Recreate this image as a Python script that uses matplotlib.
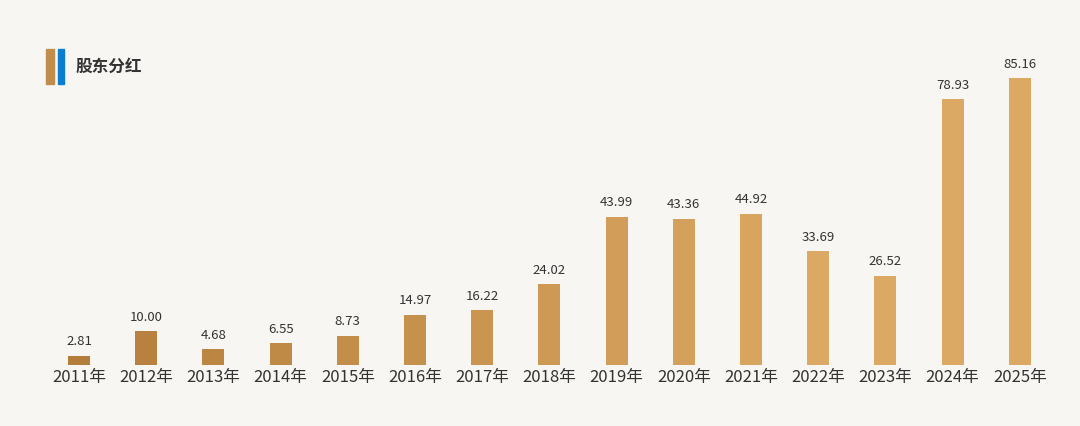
import numpy as np
import matplotlib.pyplot as plt
from matplotlib.colors import to_rgb
from matplotlib.patches import Rectangle

plt.rcParams['font.family'] = ['Noto Sans CJK SC', 'DejaVu Sans']

years = ['2011年', '2012年', '2013年', '2014年', '2015年', '2016年', '2017年', '2018年',
         '2019年', '2020年', '2021年', '2022年', '2023年', '2024年', '2025年']
values = [2.81, 10.00, 4.68, 6.55, 8.73, 14.97, 16.22, 24.02,
          43.99, 43.36, 44.92, 33.69, 26.52, 78.93, 85.16]
title = '股东分红'

fig = plt.figure(figsize=(10.8, 4.26), dpi=100)
fig.patch.set_facecolor('#f8f6f2')
ax = fig.add_axes([0, 61 / 426, 1, 365 / 426])
ax.set_facecolor('none')

# colour shifts from darker bronze to light gold across the years
c0 = np.array(to_rgb('#b57d3b'))
c1 = np.array(to_rgb('#dba963'))
x = np.arange(len(years))
colors = [tuple(c0 + (c1 - c0) * min(1, i / 11)) for i in x]
ax.bar(x, values, width=0.33, color=colors)
for xi, v in zip(x, values):
    ax.text(xi, v + 2.2, f'{v:.2f}', ha='center', va='bottom', fontsize=9.5, color='#333333')

ax.set_xlim(-79 / 67.2, (1080 - 79) / 67.2)
ax.set_ylim(0, 85.16 * 365 / 287)
ax.set_xticks(x)
ax.set_xticklabels(years, fontsize=12, color='#333333')
ax.tick_params(axis='x', length=0, pad=3)
ax.set_yticks([])
for s in ax.spines.values():
    s.set_visible(False)

# title marker
fig.patches.append(Rectangle((46 / 1080, 342 / 426), 8 / 1080, 35 / 426,
                             transform=fig.transFigure, color='#c08d4c'))
fig.patches.append(Rectangle((58 / 1080, 342 / 426), 6 / 1080, 35 / 426,
                             transform=fig.transFigure, color='#0a7fcf'))
fig.text(76 / 1080, 359 / 426, title, fontsize=12, fontweight='bold', color='#333333', va='center')

fig.savefig('out.png', dpi=100, facecolor=fig.get_facecolor())
